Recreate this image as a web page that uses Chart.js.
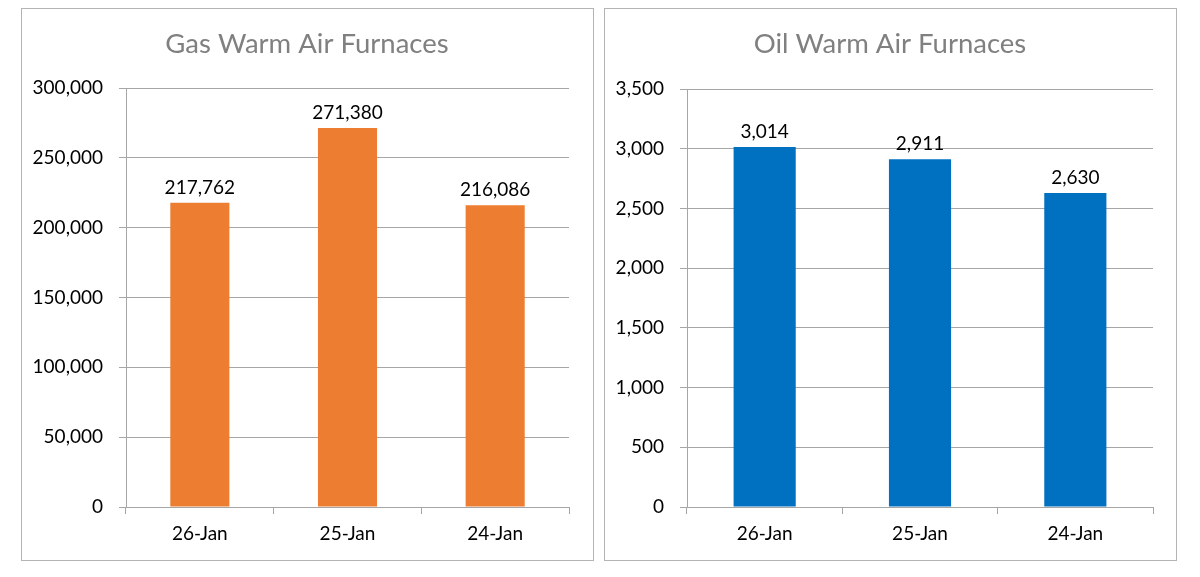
<!DOCTYPE html>
<html>
<head>
<meta charset="utf-8">
<script src="https://cdn.jsdelivr.net/npm/chart.js@4.4.1/dist/chart.umd.min.js"></script>
<style>
  html, body { margin: 0; padding: 0; background: #ffffff; }
  body { width: 1200px; height: 577px; position: relative; overflow: hidden; }
  .panel { position: absolute; box-sizing: border-box; border: 1px solid #b4b4b4; background: #fff; }
  canvas { position: absolute; }
</style>
</head>
<body>
<div class="panel" style="left:21px; top:8px; width:573px; height:553px;"></div>
<div class="panel" style="left:604px; top:8px; width:573px; height:553px;"></div>
<canvas id="gas" width="573" height="553" style="left:21px; top:8px; width:573px; height:553px;"></canvas>
<canvas id="oil" width="573" height="553" style="left:604px; top:8px; width:573px; height:553px;"></canvas>
<script>
// ---- Data ----
const categories = ['26-Jan', '25-Jan', '24-Jan'];
const gasTitle = 'Gas Warm Air Furnaces';
const gasValues = [217762, 271380, 216086];
const gasAxisMax = 300000;
const gasAxisStep = 50000;
const oilTitle = 'Oil Warm Air Furnaces';
const oilValues = [3014, 2911, 2630];
const oilAxisMax = 3500;
const oilAxisStep = 500;

const FONT = 'Lato, "Open Sans", "Noto Sans", sans-serif';
const GRID = '#a6a6a6';
const fmt = v => Number(v).toLocaleString('en-US');

const valueLabels = {
  id: 'valueLabels',
  afterDatasetsDraw(chart) {
    const ctx = chart.ctx;
    const meta = chart.getDatasetMeta(0);
    const vals = chart.data.datasets[0].data;
    ctx.save();
    ctx.font = '19px ' + FONT;
    ctx.fillStyle = '#000000';
    ctx.textAlign = 'center';
    ctx.textBaseline = 'middle';
    meta.data.forEach((bar, i) => {
      ctx.fillText(fmt(vals[i]), bar.x, bar.y - 15);
    });
    ctx.restore();
  }
};

// let the y tick labels use the free space to the left of the axis box
const widenLabelArea = {
  id: 'widenLabelArea',
  afterLayout(chart) { chart.scales.y.left = 0; }
};

function makeChart(id, title, values, color, max, step, pad, yWidth, titleBottom) {
  return new Chart(document.getElementById(id), {
    type: 'bar',
    data: {
      labels: categories,
      datasets: [{
        data: values,
        backgroundColor: color,
        borderWidth: 0,
        barPercentage: 0.4,
        categoryPercentage: 1.0
      }]
    },
    options: {
      responsive: false,
      animation: false,
      locale: 'en-US',
      layout: { padding: { left: pad.left, right: pad.right, top: 0, bottom: 0 } },
      plugins: {
        legend: { display: false },
        tooltip: { enabled: false },
        title: {
          display: true,
          text: title,
          color: '#808080',
          font: { family: FONT, size: 27.5, weight: 'normal', lineHeight: 1.2 },
          padding: { top: 19.5, bottom: titleBottom }
        }
      },
      scales: {
        x: {
          grid: { display: true, drawOnChartArea: false, drawTicks: true, tickLength: 7, color: GRID, offset: true },
          border: { display: true, color: GRID, width: 1 },
          ticks: { color: '#000000', font: { family: FONT, size: 19 }, padding: 8, maxRotation: 0 },
          afterFit(scale) { scale.height = 54; }
        },
        y: {
          min: 0,
          max: max,
          ticks: {
            stepSize: step,
            color: '#000000',
            font: { family: FONT, size: 19 },
            padding: 16,
            callback: v => fmt(v)
          },
          grid: { color: GRID, tickLength: 7, drawTicks: true },
          border: { display: true, color: GRID, width: 1 },
          afterFit(scale) { scale.width = yWidth; }
        }
      }
    },
    plugins: [valueLabels, widenLabelArea]
  });
}

makeChart('gas', gasTitle, gasValues, '#ED7D31', gasAxisMax, gasAxisStep, { left: 24, right: 25 }, 81, 27.5);
makeChart('oil', oilTitle, oilValues, '#0070C0', oilAxisMax, oilAxisStep, { left: 23, right: 24 }, 60, 28.5);
</script>
</body>
</html>
